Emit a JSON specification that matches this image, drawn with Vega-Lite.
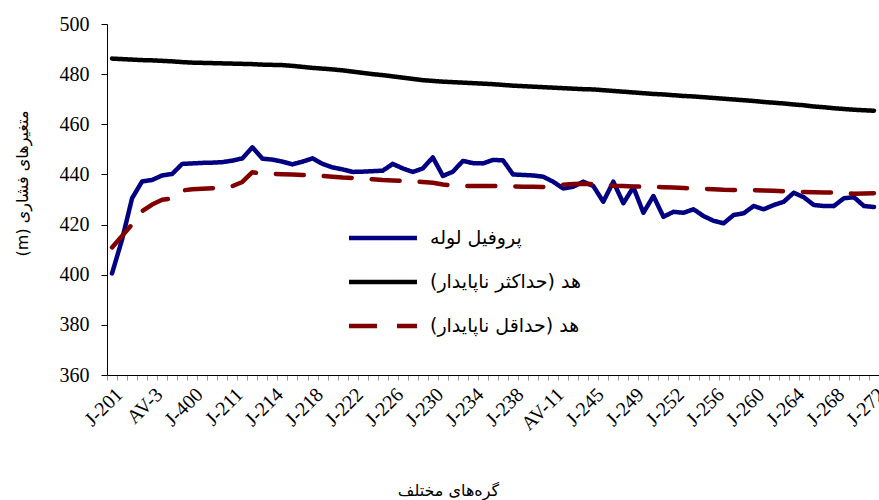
{
  "$schema": "https://vega.github.io/schema/vega-lite/v6.json",
  "width": 772,
  "height": 351,
  "autosize": {"type": "none"},
  "padding": {"left": 107, "top": 24, "right": 0, "bottom": 125},
  "background": "white",
  "config": {"view": {"stroke": null}},
  "data": {"values": [
    {"n": "J-201", "p": 400.5, "mx": 486.2, "mn": 410.9},
    {"n": "J-202", "p": 414.0, "mx": 486.0, "mn": 415.4},
    {"n": "AV-1", "p": 430.5, "mx": 485.8, "mn": 420.1},
    {"n": "AV-2", "p": 437.2, "mx": 485.6, "mn": 425.3},
    {"n": "AV-3", "p": 437.8, "mx": 485.5, "mn": 428.0},
    {"n": "J-203", "p": 439.6, "mx": 485.3, "mn": 429.9},
    {"n": "J-204", "p": 440.2, "mx": 485.1, "mn": 430.4},
    {"n": "J-205", "p": 444.2, "mx": 484.8, "mn": 433.6},
    {"n": "J-400", "p": 444.4, "mx": 484.6, "mn": 434.1},
    {"n": "J-208", "p": 444.6, "mx": 484.5, "mn": 434.3},
    {"n": "J-209", "p": 444.7, "mx": 484.4, "mn": 434.5},
    {"n": "J-210", "p": 444.9, "mx": 484.3, "mn": 434.7},
    {"n": "J-211", "p": 445.5, "mx": 484.2, "mn": 435.3},
    {"n": "J-212", "p": 446.4, "mx": 484.1, "mn": 437.0},
    {"n": "J-213", "p": 450.8, "mx": 484.0, "mn": 440.9},
    {"n": "AV-5", "p": 446.3, "mx": 483.8, "mn": 440.2},
    {"n": "J-214", "p": 445.9, "mx": 483.7, "mn": 440.2},
    {"n": "J-215", "p": 445.1, "mx": 483.6, "mn": 440.1},
    {"n": "J-216", "p": 444.0, "mx": 483.3, "mn": 440.0},
    {"n": "J-217", "p": 445.1, "mx": 482.9, "mn": 439.8},
    {"n": "J-218", "p": 446.4, "mx": 482.5, "mn": 439.7},
    {"n": "J-219", "p": 444.2, "mx": 482.2, "mn": 439.4},
    {"n": "J-220", "p": 442.8, "mx": 481.9, "mn": 439.1},
    {"n": "J-221", "p": 442.0, "mx": 481.5, "mn": 438.8},
    {"n": "J-222", "p": 441.0, "mx": 481.0, "mn": 438.6},
    {"n": "J-223", "p": 441.1, "mx": 480.5, "mn": 438.3},
    {"n": "J-224", "p": 441.3, "mx": 480.0, "mn": 438.1},
    {"n": "J-225", "p": 441.5, "mx": 479.6, "mn": 437.8},
    {"n": "J-226", "p": 444.2, "mx": 479.1, "mn": 437.6},
    {"n": "J-227", "p": 442.4, "mx": 478.6, "mn": 437.4},
    {"n": "J-228", "p": 441.0, "mx": 478.1, "mn": 437.2},
    {"n": "J-229", "p": 442.4, "mx": 477.6, "mn": 437.0},
    {"n": "J-230", "p": 446.8, "mx": 477.3, "mn": 436.7},
    {"n": "J-231", "p": 439.4, "mx": 477.0, "mn": 436.0},
    {"n": "J-232", "p": 441.1, "mx": 476.8, "mn": 435.6},
    {"n": "J-233", "p": 445.4, "mx": 476.6, "mn": 435.4},
    {"n": "J-234", "p": 444.5, "mx": 476.4, "mn": 435.4},
    {"n": "J-235", "p": 444.4, "mx": 476.2, "mn": 435.4},
    {"n": "J-236", "p": 445.8, "mx": 476.0, "mn": 435.4},
    {"n": "J-237", "p": 445.6, "mx": 475.7, "mn": 435.3},
    {"n": "J-238", "p": 440.0, "mx": 475.4, "mn": 435.2},
    {"n": "J-239", "p": 439.8, "mx": 475.2, "mn": 435.1},
    {"n": "J-240", "p": 439.6, "mx": 475.0, "mn": 435.1},
    {"n": "AV-10", "p": 439.1, "mx": 474.8, "mn": 435.0},
    {"n": "AV-11", "p": 437.1, "mx": 474.6, "mn": 435.3},
    {"n": "J-241", "p": 434.4, "mx": 474.4, "mn": 435.9},
    {"n": "J-243", "p": 435.1, "mx": 474.2, "mn": 436.2},
    {"n": "J-244", "p": 437.1, "mx": 474.0, "mn": 436.3},
    {"n": "J-245", "p": 435.4, "mx": 473.9, "mn": 436.1},
    {"n": "J-246", "p": 429.1, "mx": 473.6, "mn": 435.8},
    {"n": "J-247", "p": 437.1, "mx": 473.3, "mn": 435.5},
    {"n": "J-248", "p": 428.5, "mx": 473.0, "mn": 435.4},
    {"n": "J-249", "p": 434.9, "mx": 472.7, "mn": 435.2},
    {"n": "J-250", "p": 424.7, "mx": 472.4, "mn": 435.1},
    {"n": "J-251", "p": 431.4, "mx": 472.1, "mn": 435.0},
    {"n": "AV-12", "p": 423.1, "mx": 471.9, "mn": 434.9},
    {"n": "J-252", "p": 425.1, "mx": 471.6, "mn": 434.8},
    {"n": "J-253", "p": 424.7, "mx": 471.3, "mn": 434.6},
    {"n": "J-254", "p": 426.1, "mx": 471.1, "mn": 434.4},
    {"n": "J-255", "p": 423.4, "mx": 470.8, "mn": 434.2},
    {"n": "J-256", "p": 421.5, "mx": 470.5, "mn": 434.1},
    {"n": "J-257", "p": 420.5, "mx": 470.2, "mn": 433.9},
    {"n": "J-258", "p": 423.8, "mx": 469.9, "mn": 433.8},
    {"n": "J-259", "p": 424.5, "mx": 469.6, "mn": 433.8},
    {"n": "J-260", "p": 427.4, "mx": 469.3, "mn": 433.7},
    {"n": "J-261", "p": 426.1, "mx": 468.9, "mn": 433.6},
    {"n": "J-262", "p": 427.8, "mx": 468.6, "mn": 433.5},
    {"n": "J-263", "p": 429.1, "mx": 468.3, "mn": 433.3},
    {"n": "J-264", "p": 432.7, "mx": 467.9, "mn": 433.1},
    {"n": "J-265", "p": 430.9, "mx": 467.6, "mn": 433.0},
    {"n": "J-266", "p": 427.8, "mx": 467.1, "mn": 432.9},
    {"n": "J-267", "p": 427.4, "mx": 466.8, "mn": 432.8},
    {"n": "J-268", "p": 427.4, "mx": 466.4, "mn": 432.8},
    {"n": "J-269", "p": 430.5, "mx": 466.1, "mn": 432.5},
    {"n": "J-270", "p": 430.9, "mx": 465.8, "mn": 432.3},
    {"n": "J-271", "p": 427.4, "mx": 465.6, "mn": 432.4},
    {"n": "J-272", "p": 427.0, "mx": 465.4, "mn": 432.5}
  ]},
  "transform": [{"fold": ["p", "mx", "mn"], "as": ["s", "v"]}],
  "mark": {"type": "line", "strokeWidth": 4.5, "strokeCap": "round", "strokeJoin": "round"},
  "encoding": {
    "x": {
      "field": "n", "type": "ordinal", "sort": null,
      "scale": {"type": "band", "paddingInner": 0, "paddingOuter": 0},
      "axis": {
        "title": "\u202Bگره‌های مختلف\u202C",
        "titleFont": "DejaVu Sans", "titleFontSize": 16, "titleFontWeight": "normal", "titleColor": "black",
        "titleX": 341, "titleY": 120, "titleAlign": "center", "titleBaseline": "alphabetic",
        "tickBand": "extent", "tickColor": "#999999", "tickSize": 5, "tickWidth": 1,
        "domainColor": "black", "domainWidth": 1,
        "labelAngle": -45, "labelAlign": "right", "labelBaseline": "top", "labelPadding": 4,
        "labelFont": "Liberation Serif", "labelFontSize": 20, "labelColor": "black",
        "labelExpr": "indexof(['J-201','AV-3','J-400','J-211','J-214','J-218','J-222','J-226','J-230','J-234','J-238','AV-11','J-245','J-249','J-252','J-256','J-260','J-264','J-268','J-272'], datum.value) >= 0 ? datum.value : ''",
        "grid": false
      }
    },
    "y": {
      "field": "v", "type": "quantitative",
      "scale": {"domain": [360, 500], "nice": false, "zero": false},
      "axis": {
        "values": [360, 380, 400, 420, 440, 460, 480, 500],
        "title": "\u202Bمتغیرهای فشاری (m)\u202C",
        "titleFont": "DejaVu Sans", "titleFontSize": 16, "titleFontWeight": "normal", "titleColor": "black",
        "titleAngle": -90, "titleX": -85, "titleY": 159, "titleAlign": "center", "titleBaseline": "middle",
        "grid": false, "domainColor": "black", "tickColor": "black", "tickSize": 6,
        "labelPadding": 12, "labelFont": "Liberation Serif", "labelFontSize": 20, "labelColor": "black"
      }
    },
    "color": {
      "field": "s", "type": "nominal",
      "scale": {"domain": ["p", "mx", "mn"], "range": ["#000080", "#000000", "#800000"]},
      "legend": {
        "title": null, "orient": "none", "legendX": 262, "legendY": 200,
        "symbolType": "M-3,0H3", "symbolSize": 514, "symbolStrokeWidth": 4.5, "symbolFillColor": "transparent",
        "labelFont": "DejaVu Sans", "labelFontSize": 19, "labelColor": "black", "labelOffset": 33,
        "rowPadding": 20, "padding": 0,
        "labelExpr": "datum.value == 'p' ? '\u202Bپروفیل لوله\u202C' : datum.value == 'mx' ? '\u202Bهد (حداکثر ناپایدار)\u202C' : '\u202Bهد (حداقل ناپایدار)\u202C'"
      }
    },
    "strokeDash": {
      "field": "s", "type": "nominal",
      "scale": {"domain": ["p", "mx", "mn"], "range": [[1, 0], [1, 0], [28, 20]]},
      "legend": {
        "title": null, "orient": "none", "legendX": 262, "legendY": 200,
        "symbolType": "M-3,0H3", "symbolSize": 514, "symbolStrokeWidth": 4.5, "symbolFillColor": "transparent",
        "labelFont": "DejaVu Sans", "labelFontSize": 19, "labelColor": "black", "labelOffset": 33,
        "rowPadding": 20, "padding": 0,
        "labelExpr": "datum.value == 'p' ? '\u202Bپروفیل لوله\u202C' : datum.value == 'mx' ? '\u202Bهد (حداکثر ناپایدار)\u202C' : '\u202Bهد (حداقل ناپایدار)\u202C'"
      }
    }
  }
}
